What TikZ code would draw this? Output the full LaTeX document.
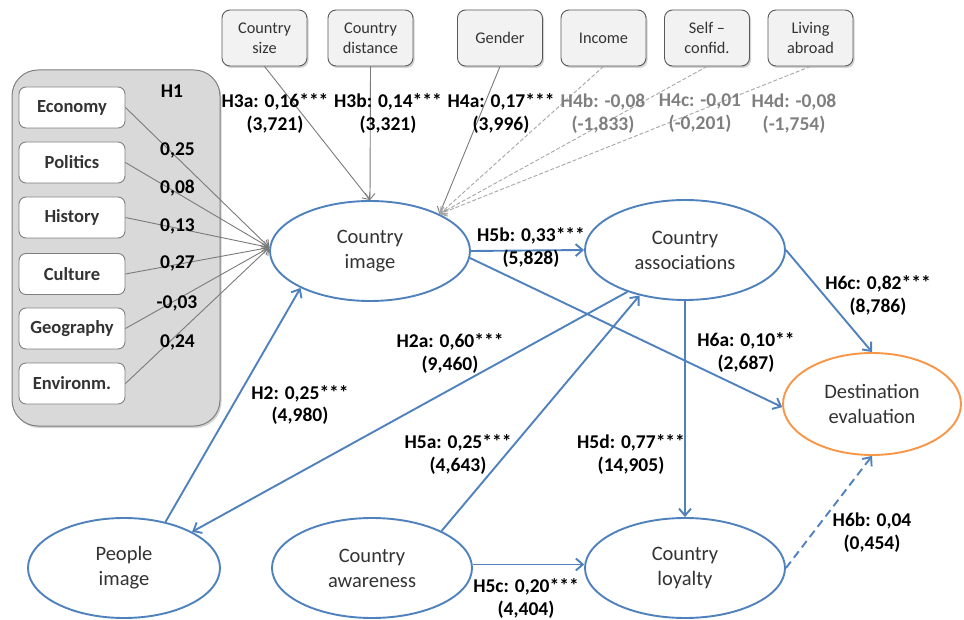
\documentclass[tikz,border=0pt]{standalone}
\usepackage{fontspec}
\setmainfont{Carlito}
\usetikzlibrary{shapes.geometric,arrows.meta,shadows}
\definecolor{cblue}{HTML}{4F81BD}
\definecolor{corange}{HTML}{F79646}
\definecolor{cgrayline}{HTML}{7A7A7A}
\definecolor{ctext}{HTML}{333333}
\definecolor{cboxfill}{HTML}{F2F2F2}
\definecolor{cbigfill}{HTML}{D9D9D9}
\definecolor{clabgray}{HTML}{7F7F7F}
\tikzset{
  latent/.style={ellipse, draw=cblue, line width=1.9pt, fill=white, minimum width=200pt, minimum height=100pt, inner sep=0pt, align=center, text=ctext, font=\fontsize{20.5}{25}\selectfont},
  topbox/.style={rectangle, rounded corners=8pt, draw=black!65, line width=0.9pt, fill=cboxfill, minimum width=85pt, minimum height=56pt, inner sep=0pt, align=center, text=ctext, font=\fontsize{16.3}{20}\selectfont, drop shadow={shadow xshift=1.5pt, shadow yshift=-2pt, opacity=0.35}},
  bigbox/.style={rectangle, rounded corners=26pt, draw=black!50, line width=1pt, fill=cbigfill, minimum width=208pt, minimum height=356pt, inner sep=0pt, drop shadow={shadow xshift=1.5pt, shadow yshift=-2pt, opacity=0.35}},
  dimbox/.style={rectangle, rounded corners=7pt, draw=black!50, line width=0.9pt, fill=white, minimum width=106pt, minimum height=41pt, inner sep=0pt, text=ctext, font=\bfseries\fontsize{18.5}{22}\selectfont},
  lab/.style={align=center, font=\bfseries\fontsize{19.5}{23}\selectfont, inner sep=0pt},
  glab/.style={lab, text=clabgray},
  barrow/.style={draw=cblue, line width=1.9pt, -{Straight Barb[length=7pt,width=12pt]}},
  garrow/.style={draw=cgrayline, line width=0.9pt, -{Straight Barb[length=6pt,width=10pt]}},
  gdash/.style={garrow, draw=black!35, dash pattern=on 4pt off 2pt},
}
\begin{document}
\begin{tikzpicture}[x=1pt,y=-1pt]
\useasboundingbox (0,0) rectangle (964,620);

% group box with dimensions
\node[bigbox] (grp) at (116,248) {};
\node[lab] (h1) at (172,91) {H1};
\node[dimbox] (eco) at (72,107.5) {Economy};
\node[dimbox] (pol) at (72,162.5) {Politics};
\node[dimbox] (his) at (72,217.5) {History};
\node[dimbox] (cul) at (72,274) {Culture};
\node[dimbox] (geo) at (72,328.5) {Geography};
\node[dimbox] (env) at (72,383.5) {Environm.};

% top boxes
\node[topbox] (tsize) at (264.5,38) {Country\\size};
\node[topbox] (tdist) at (370.5,38) {Country\\distance};
\node[topbox] (tgen) at (500,38) {Gender};
\node[topbox] (tinc) at (603.5,38) {Income};
\node[topbox] (tself) at (707,38) {Self –\\confid.};
\node[topbox] (tliv) at (810.5,38) {Living\\abroad};

% latent constructs
\node[latent] (ci) at (370,251) {Country\\image};
\node[latent] (ca) at (685,250) {Country\\associations};
\node[latent, draw=corange, minimum width=178pt, minimum height=102pt] (de) at (872,404) {Destination\\evaluation};
\node[latent, minimum width=192pt] (pi) at (124,568) {People\\image};
\node[latent] (aw) at (372,568) {Country\\awareness};
\node[latent] (lo) at (685,568) {Country\\loyalty};

% gray arrows from dimensions
\foreach \n in {eco,pol,his,cul,geo,env}
  \draw[garrow] (\n.east) -- (ci.178);

% top arrows
\draw[garrow] (tsize.south) -- (ci.north);
\draw[garrow] (tdist.south) -- (ci.north);
\draw[garrow] (tgen.south) -- (ci.28);
\draw[gdash] (tinc.south) -- (ci.28);
\draw[gdash] (tself.south) -- (ci.28);
\draw[gdash] (tliv.south) -- (ci.28);

% structural paths
\draw[barrow] (pi.48) -- (ci.208);
\draw[barrow] (ca.216) -- (pi.28);
\draw[barrow] (aw.28) -- (ca.225);
\draw[barrow] (ci.east) -- (ca.west);
\draw[barrow] (ci.-4) -- (de.182);
\draw[barrow] (ca.east) -- (de.north);
\draw[barrow] (ca.south) -- (lo.north);
\draw[barrow] (aw.2) -- (lo.178);
\draw[barrow, dash pattern=on 8pt off 5pt] (lo.east) -- (de.south);

% coefficient labels H1
\node[lab] (c1) at (177.5,150) {0,25};
\node[lab] (c2) at (177.5,188) {0,08};
\node[lab] (c3) at (177.5,226) {0,13};
\node[lab] (c4) at (177.5,263) {0,27};
\node[lab] (c5) at (177,303) {-0,03};
\node[lab] (c6) at (177.5,342) {0,24};

% path labels
\node[lab] (l3a) at (275,113.5) {H3a: 0,16***\\(3,721)};
\node[lab] (l3b) at (388,113.5) {H3b: 0,14***\\(3,321)};
\node[lab] (l4a) at (501,113.5) {H4a: 0,17***\\(3,996)};
\node[glab] (l4b) at (603,113.5) {H4b: -0,08\\(-1,833)};
\node[glab] (l4c) at (700,113.5) {H4c: -0,01\\(-0,201)};
\node[glab] (l4d) at (794,113.5) {H4d: -0,08\\(-1,754)};
\node[lab] (l5b) at (531,247.5) {H5b: 0,33***\\(5,828)};
\node[lab] (l6c) at (878,296) {H6c: 0,82***\\(8,786)};
\node[lab] (l6a) at (746,352.5) {H6a: 0,10**\\(2,687)};
\node[lab] (l2a) at (450,353.5) {H2a: 0,60***\\(9,460)};
\node[lab] (l2) at (300,405) {H2: 0,25***\\(4,980)};
\node[lab] (l5a) at (458,455) {H5a: 0,25***\\(4,643)};
\node[lab] (l5d) at (631,455) {H5d: 0,77***\\(14,905)};
\node[lab] (l5c) at (526,598.5) {H5c: 0,20***\\(4,404)};
\node[lab] (l6b) at (872,532.5) {H6b: 0,04\\(0,454)};
\end{tikzpicture}
\end{document}
